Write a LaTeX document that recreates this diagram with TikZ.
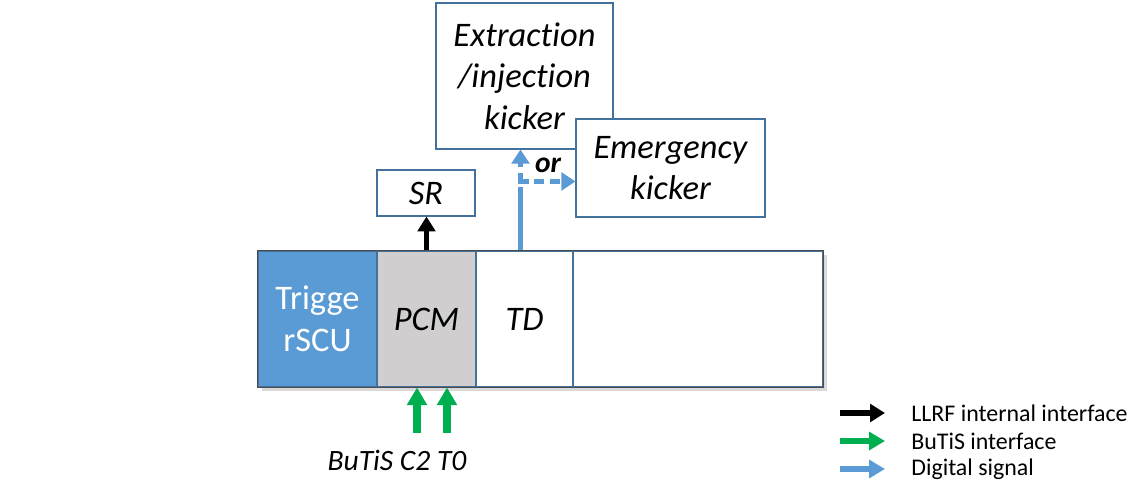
\documentclass[tikz,border=0pt]{standalone}
\usepackage{fontspec}
\setmainfont{Carlito}[Ligatures={NoCommon}]
\usepackage{tikz}
\usetikzlibrary{arrows.meta, positioning, calc, shadows}
\definecolor{cellblue}{HTML}{5B9BD5}
\definecolor{cellgray}{HTML}{D0CECE}
\definecolor{edgeblue}{HTML}{41719C}
\definecolor{butisgreen}{HTML}{00B050}
\definecolor{sigblue}{HTML}{5B9BD5}

\begin{document}
\begin{tikzpicture}[
  cell/.style={draw=edgeblue, line width=0.6pt, minimum height=2.72cm, inner sep=0pt, align=center, font=\fontsize{19.6}{24}\selectfont\itshape},
  box/.style={draw=edgeblue, line width=0.6pt, fill=white, inner sep=0pt, align=center, font=\fontsize{19.6}{23.6}\selectfont\itshape},
  llrf/.style={line width=2.6pt, -{Triangle[length=8.5pt, width=10pt]}},
  butis/.style={butisgreen, line width=4pt, -{Triangle[length=10pt, width=11pt]}},
  digital/.style={sigblue, line width=2.8pt},
  legendtext/.style={anchor=west, inner sep=0pt, font=\fontsize{13.6}{16}\selectfont}
]
\useasboundingbox (0,0) rectangle (22.70,9.72);
% Main bar
\node[cell, draw=black!70, minimum width=11.30cm, drop shadow={shadow xshift=2pt, shadow yshift=-2pt, opacity=0.3}, fill=white] (bar) at (10.81,3.34) {};
\node[cell, fill=cellblue, minimum width=2.38cm, text=white, font=\fontsize{19.6}{24}\selectfont] (scu) at (6.35,3.34) {Trigge\\rSCU};
\node[cell, fill=cellgray, minimum width=1.98cm] (pcm) at (8.53,3.34) {PCM};
\node[cell, fill=white, minimum width=1.94cm] (td) at (10.49,3.34) {TD};
\node[cell, fill=white, minimum width=5.00cm] (rest) at (13.96,3.34) {};
\draw[black!70, line width=0.6pt] (bar.north west) rectangle (bar.south east);
% Upper boxes
\node[box, minimum width=1.96cm, minimum height=0.92cm] (sr) at (8.52,5.86) {SR};
\node[box, minimum width=3.54cm, minimum height=2.92cm] (ext) at (10.49,8.20) {Extraction\\/injection\\kicker};
\node[box, minimum width=3.78cm, minimum height=1.96cm] (emg) at (13.41,6.36) {Emergency\\kicker};
% Arrows
\draw[llrf] (pcm.north) -- (pcm.north |- sr.south);
\draw[digital] ($(td.north)+(-0.08,0)$) -- ++(0,1.26) coordinate (fork);
\draw[digital, dash pattern=on 5pt off 3pt, -{Triangle[length=8pt, width=10pt]}] ($(fork)+(0,0.12)$) -- ($(fork |- ext.south)$);
\draw[digital, dash pattern=on 6pt off 3pt, -{Triangle[length=8pt, width=10pt]}] ($(fork)+(-0.05,0.12)$) -- ($(fork -| emg.west)+(0,0.12)$);
\node[font=\fontsize{16.8}{20}\selectfont\bfseries\itshape] (or) at (10.96,6.42) {or};
\coordinate (c2) at (8.34,1.06);
\coordinate (t0) at (8.94,1.06);
\draw[butis] (c2) -- (c2 |- pcm.south);
\draw[butis] (t0) -- (t0 |- pcm.south);
\node[font=\fontsize{16.8}{20}\selectfont\itshape] (butislabel) at (7.94,0.52) {BuTiS C2 T0};
% Legend
\coordinate (l1) at (16.80,1.46);
\coordinate (l2) at (16.80,0.90);
\coordinate (l3) at (16.80,0.34);
\draw[llrf, line width=3.2pt] (l1) -- ++(0.90,0);
\draw[butis, line width=3.2pt, -{Triangle[length=9pt, width=10pt]}] (l2) -- ++(0.90,0);
\draw[digital, line width=3.2pt, -{Triangle[length=9pt, width=10pt]}] (l3) -- ++(0.90,0);
\node[legendtext] (t1) at (18.22,1.46) {LLRF internal interface};
\node[legendtext] (t2) at (18.22,0.90) {BuTiS interface};
\node[legendtext] (t3) at (18.22,0.34) {Digital signal};
\end{tikzpicture}
\end{document}
